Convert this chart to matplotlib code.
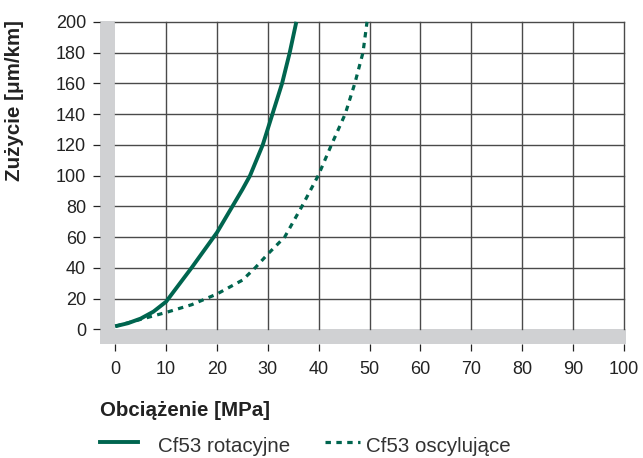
import matplotlib.pyplot as plt
from matplotlib.lines import Line2D

plt.rcParams['font.family'] = ['Liberation Sans', 'DejaVu Sans']

# wear curves
rot_x = [0, 2.5, 5, 7.5, 10, 15, 20, 25, 26.5, 29, 30.9, 32.8, 34.3, 35.6]
rot_y = [2, 4, 7, 11.5, 18, 40, 63, 91, 100, 120, 140, 160, 180, 200]
osc_x = [0, 5, 10, 15, 20, 25, 27.5, 30, 33.3, 36.7, 39.9, 42.5, 45.2, 47.1, 48.7, 49.5]
osc_y = [2, 6.5, 11, 16, 23, 32, 40, 49, 60, 80, 100, 120, 140, 160, 180, 200]
xticks = list(range(0, 101, 10))
yticks = list(range(0, 201, 20))

green = '#00654f'
gridc = '#4a4a4a'
band = '#d0d1d3'

fig = plt.figure(figsize=(6.43, 4.58), dpi=100)
ax = fig.add_axes([0.1555, 0.249, 0.818, 0.705])

ax.set_xlim(-3, 100.4)
ax.set_ylim(-9.5, 200.5)
for s in ax.spines.values():
    s.set_visible(False)

ax.axvspan(-3, 0, color=band, lw=0, zorder=1)
ax.axhspan(-9.5, 0, color=band, lw=0, zorder=1)

for x in xticks[1:]:
    ax.plot([x, x], [0, 200], color=gridc, lw=1.0, zorder=2)
for y in yticks[1:]:
    ax.plot([0, 100], [y, y], color=gridc, lw=1.0, zorder=2)

ax.plot(rot_x, rot_y, color=green, lw=2.8, solid_capstyle='butt', zorder=4)
ax.plot(osc_x, osc_y, color=green, lw=2.3, dashes=(1.7, 1.7), zorder=3)

ax.set_xticks(xticks)
ax.set_yticks(yticks)
ax.tick_params(axis='both', length=5, width=0.9, color='#222222',
               labelsize=13, labelcolor='#222222')
ax.tick_params(axis='x', pad=7)
ax.tick_params(axis='y', pad=5)

fig.text(15 / 643, 1 - 101 / 458, 'Zużycie [μm/km]', rotation=90, ha='center', va='center',
         fontsize=14.8, fontweight='bold', color='#222222')
fig.text(100 / 643, 1 - 410 / 458, 'Obciążenie [MPa]', ha='left', va='center',
         fontsize=14.8, fontweight='bold', color='#222222')

ly = 1 - 442 / 458
fig.add_artist(Line2D([100 / 643, 138 / 643], [ly, ly], color=green, lw=2.8))
fig.add_artist(Line2D([325 / 643, 360 / 643], [ly, ly], color=green, lw=2.3,
                      dashes=(1.7, 1.7)))
fig.text(158 / 643, 1 - 447 / 458, 'Cf53 rotacyjne', ha='left', va='center',
         fontsize=14.8, color='#333333')
fig.text(366 / 643, 1 - 447 / 458, 'Cf53 oscylujące', ha='left', va='center',
         fontsize=14.8, color='#333333')

fig.savefig('out.png', dpi=100)
